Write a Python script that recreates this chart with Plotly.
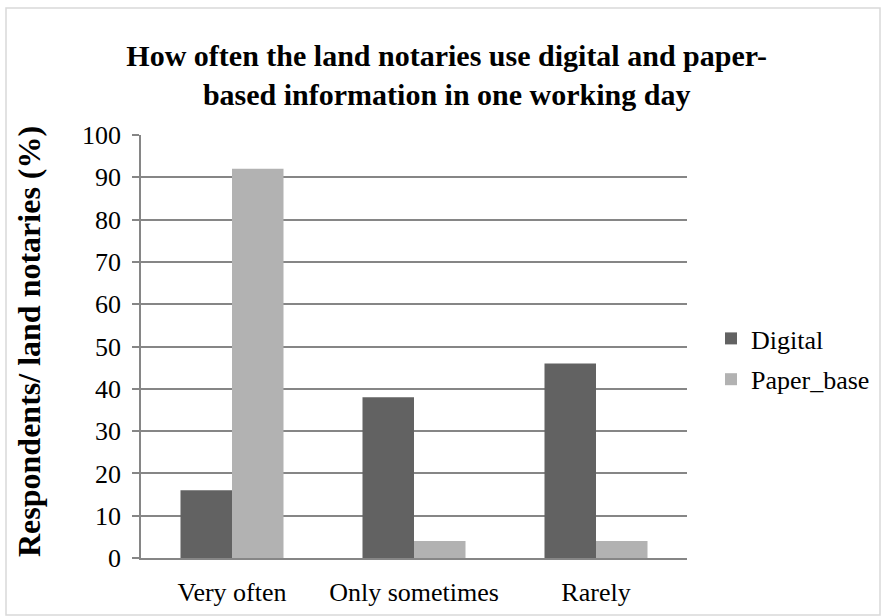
import plotly.graph_objects as go

categories = ["Very often", "Only sometimes", "Rarely"]
digital = [16, 38, 46]
paper_base = [92, 4, 4]
y_ticks = list(range(0, 101, 10))

FONT = "Liberation Serif"
GRID = "#868686"

fig = go.Figure()
fig.add_trace(go.Bar(x=categories, y=digital, name="Digital", marker_color="#626262",
                     marker_line_width=0, legendgroup="a"))
fig.add_trace(go.Bar(x=categories, y=paper_base, name="Paper_base", marker_color="#b2b2b2",
                     marker_line_width=0, legendgroup="b"))

L, R, T, B = 141, 881 - 687, 135, 616 - 558
W, H = 881 - L - R, 616 - T - B

def px(x):
    return (x - L) / W

def py(y):
    return (616 - B - y) / H

fig.update_layout(
    width=881, height=616,
    margin=dict(l=L, r=R, t=T, b=B, autoexpand=False),
    paper_bgcolor="white", plot_bgcolor="white",
    barmode="group", bargap=0.434, bargroupgap=0,
    font=dict(family=FONT, size=26, color="#000000"),
    title=dict(text="<b>How often the land notaries use digital and paper-<br>based information in one working day</b>",
               x=0.507, xanchor="center", xref="container",
               y=1 - 66 / 616, yanchor="top", yref="container",
               font=dict(family=FONT, size=30, color="#000000")),
    legend=dict(x=px(711), y=py(359), xanchor="left", yanchor="middle",
                font=dict(family=FONT, size=26), tracegroupgap=4,
                itemwidth=30, bgcolor="rgba(0,0,0,0)"),
    xaxis=dict(showline=True, linecolor=GRID, linewidth=1.5, ticks="",
               tickfont=dict(family=FONT, size=26), ticklabelstandoff=10,
               showgrid=False),
    yaxis=dict(range=[0, 100], tickvals=y_ticks, showline=True, linecolor=GRID, linewidth=1.5,
               ticks="outside", ticklen=7, tickcolor=GRID, tickwidth=1.5,
               showgrid=True, gridcolor=GRID, gridwidth=1.5,
               tickfont=dict(family=FONT, size=26), ticklabelstandoff=6, zeroline=False),
    annotations=[dict(text="<b>Respondents/ land notaries (%)</b>", textangle=-90,
                      x=px(29), y=py(342), xref="paper", yref="paper",
                      xanchor="center", yanchor="middle", showarrow=False,
                      font=dict(family=FONT, size=32, color="#000000"))],
    shapes=[dict(type="rect", xref="paper", yref="paper",
                 x0=px(6), x1=px(880), y0=py(615), y1=py(8),
                 line=dict(color="#d9d9d9", width=1.5), layer="below")],
    showlegend=True,
)

fig.write_html("out.html")
